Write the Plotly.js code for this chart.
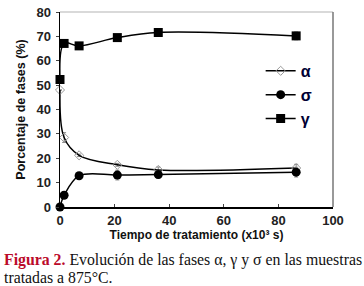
<!DOCTYPE html>
<html><head><meta charset="utf-8">
<script src="https://cdn.plot.ly/plotly-3.0.1.min.js"></script>
<style>
html,body{margin:0;padding:0;background:#fff;}
#chart{width:364px;height:286px;}
</style></head>
<body><div id="chart"></div>
<script>
const tiempo = [0, 1.5, 7, 21, 36, 86.5];
const alfa   = [48, 28.5, 21.2, 17.3, 15.2, 16];
const sigma  = [0, 4.8, 12.8, 13.1, 13.3, 14.3];
const gamma  = [52.3, 67.1, 66.1, 69.5, 71.6, 70.2];
const errAlfa  = [0, 2, 0.5, 0.6, 1.2, 1.5];
const errSigma = [0, 0, 0, 2, 1.5, 2];
const errGamma = [0, 0, 0, 0, 0.5, 1.6];
const names = ['α', 'σ', 'γ'];
const xTicks = [0, 20, 40, 60, 80, 100];
const yTicks = [0, 10, 20, 30, 40, 50, 60, 70, 80];

function eb(arr){return {type:'data', array:arr, visible:true, color:'#888', thickness:1, width:2};}
const traces = [
  {x:tiempo, y:alfa, name:names[0], legendgroup:'a', mode:'lines+markers', cliponaxis:false,
   line:{color:'#000', width:1.5, shape:'spline', smoothing:1},
   marker:{symbol:'diamond-open', size:7, color:'#999', line:{width:1}},
   error_y:eb(errAlfa)},
  {x:tiempo, y:sigma, name:names[1], legendgroup:'s', mode:'lines+markers', cliponaxis:false,
   line:{color:'#000', width:1.5, shape:'spline', smoothing:1},
   marker:{symbol:'circle', size:9, color:'#000'},
   error_y:eb(errSigma)},
  {x:tiempo, y:gamma, name:names[2], legendgroup:'g', mode:'lines+markers', cliponaxis:false,
   line:{color:'#000', width:1.5, shape:'spline', smoothing:1},
   marker:{symbol:'square', size:9, color:'#000'},
   error_y:eb(errGamma)}
];
const tickfont = {family:'Liberation Sans, Arial', size:13, weight:'bold', color:'#222'};
const layout = {
  width:364, height:286,
  margin:{l:60, r:31, t:12, b:79},
  paper_bgcolor:'#fff', plot_bgcolor:'#fff',
  showlegend:true,
  legend:{x:0.735, y:0.785, xanchor:'left', yanchor:'top', bgcolor:'rgba(0,0,0,0)',
    itemwidth:30, tracegroupgap:0,
    font:{family:'Liberation Sans, Arial', size:16, weight:'bold', color:'#000033'}},
  xaxis:{range:[0,100], tickvals:xTicks, ticks:'inside', ticklen:3, tickcolor:'#444',
    showgrid:false, zeroline:false, showline:true, linecolor:'#000', linewidth:1.5,
    tickfont:tickfont, ticklabelstandoff:1,
    title:{text:'Tiempo de tratamiento (x10³ s)', standoff:3,
      font:{family:'Liberation Sans, Arial', size:12, weight:'bold', color:'#111'}}},
  yaxis:{range:[0,80], tickvals:yTicks, ticks:'outside', ticklen:3, tickcolor:'#444',
    showgrid:false, zeroline:false, showline:true, linecolor:'#000', linewidth:1.5,
    tickfont:tickfont, ticklabelstandoff:2,
    title:{text:'Porcentaje de fases (%)', standoff:8,
      font:{family:'Liberation Sans, Arial', size:12.5, weight:'bold', color:'#111'}}},
  shapes:[
    {type:'line', xref:'paper', yref:'paper', x0:0, x1:1, y0:1, y1:1, line:{color:'#ccc', width:1.5}},
    {type:'line', xref:'paper', yref:'paper', x0:1, x1:1, y0:0, y1:1, line:{color:'#777', width:1.5}}
  ],
  annotations:[
    {xref:'paper', yref:'paper', x:-0.212, y:-0.272, xanchor:'left', yanchor:'middle', align:'left', showarrow:false,
     text:'<b style="color:#bb0a2a">Figura 2.</b> Evolución de las fases α, γ y σ en las muestras',
     font:{family:'Liberation Serif, Times New Roman', size:15.8, color:'#111'}},
    {xref:'paper', yref:'paper', x:-0.212, y:-0.359, xanchor:'left', yanchor:'middle', align:'left', showarrow:false,
     text:'tratadas a 875°C.',
     font:{family:'Liberation Serif, Times New Roman', size:15.8, color:'#111'}}
  ]
};
Plotly.newPlot('chart', traces, layout, {displayModeBar:false, staticPlot:true});
</script></body></html>
